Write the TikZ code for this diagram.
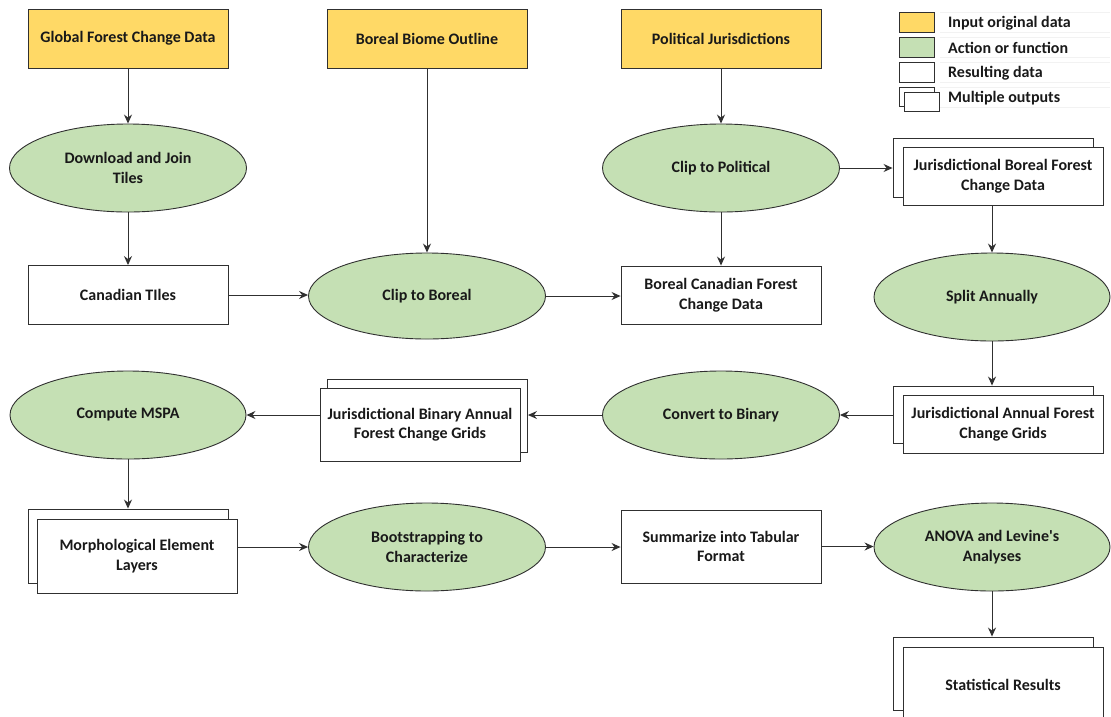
\documentclass[tikz,border=0pt]{standalone}
\usepackage{fontspec}
\setmainfont{Carlito}[Ligatures=TeXOff]
\usetikzlibrary{arrows.meta,shapes.geometric}
\definecolor{inyellow}{HTML}{FFD966}
\definecolor{actgreen}{HTML}{C5E0B4}
\definecolor{edge}{HTML}{303030}
\begin{document}
\begin{tikzpicture}[x=1pt,y=-1pt,
  every node/.style={font=\fontsize{16}{19.5}\selectfont\bfseries, text=black!90, align=center, inner sep=0pt},
  inbox/.style={draw=edge, line width=0.9pt, fill=inyellow, rectangle, minimum width=200pt, minimum height=59pt},
  resbox/.style={draw=edge, line width=0.9pt, fill=white, rectangle, minimum width=200pt},
  actell/.style={draw=edge, line width=0.9pt, fill=actgreen, ellipse, minimum width=237pt, minimum height=88pt},
  flow/.style={draw=edge, line width=1pt, -{Stealth[length=9pt,width=8pt,inset=3pt]}},
  legtext/.style={anchor=west, font=\fontsize{16}{19}\selectfont\bfseries},
  faint/.style={draw=black!5, line width=0.6pt}
]
\useasboundingbox (0,0) rectangle (1111,716);
\clip (0,0) rectangle (1111,716);
\fill[white] (0,0) rectangle (1111,716);

% legend
\foreach \ya/\yb in {12/32,37/57,62/82,87/107}{
  \draw[faint] (940,\ya) -- (1110,\ya);
  \draw[faint] (940,\yb) -- (1110,\yb);
}
\node[draw=edge, line width=0.9pt, fill=inyellow, minimum width=35pt, minimum height=20pt] (lg1) at (916.5,22) {};
\node[draw=edge, line width=0.9pt, fill=actgreen, minimum width=35pt, minimum height=20pt] (lg2) at (916.5,47) {};
\node[draw=edge, line width=0.9pt, fill=white, minimum width=35pt, minimum height=20pt] (lg3) at (916.5,72) {};
\node[draw=edge, line width=0.9pt, fill=white, minimum width=35pt, minimum height=19pt] (lg4b) at (916.5,97) {};
\node[draw=edge, line width=0.9pt, fill=white, minimum width=35pt, minimum height=19pt] (lg4) at (921.5,101.5) {};
\node[legtext] (lt1) at (948,23) {Input original data};
\node[legtext] (lt2) at (948,48) {Action or function};
\node[legtext] (lt3) at (948,73) {Resulting data};
\node[legtext] (lt4) at (948,98) {Multiple outputs};

% inputs
\node[inbox] (gfc) at (128,38.5) {Global Forest Change Data};
\node[inbox] (bbo) at (427,38.5) {Boreal Biome Outline};
\node[inbox] (pj) at (721,38.5) {Political Jurisdictions};

% row 1
\node[actell] (dj) at (128,168) {Download and Join\\Tiles};
\node[actell] (cp) at (721,168) {Clip to Political};
\node[resbox, minimum height=59pt] (jbB) at (993,167.5) {};
\node[resbox, minimum height=58pt] (jb) at (1003,176) {Jurisdictional Boreal Forest\\Change Data};

% row 2
\node[resbox, minimum height=59pt] (ct) at (128,295) {Canadian TIles};
\node[actell, minimum height=86pt] (cb) at (427,296) {Clip to Boreal};
\node[resbox, minimum height=58pt] (bc) at (721,295) {Boreal Canadian Forest\\Change Data};
\node[actell, minimum width=236pt] (sa) at (992,297) {Split Annually};

% row 3
\node[actell, minimum width=236pt] (ms) at (128,415) {Compute MSPA};
\node[resbox, minimum height=73pt] (jbaB) at (427.5,415.5) {};
\node[resbox, minimum height=73pt] (jba) at (420,424.5) {Jurisdictional Binary Annual\\Forest Change Grids};
\node[actell] (cv) at (721,415) {Convert to Binary};
\node[resbox, minimum height=57pt] (jaB) at (993,414.5) {};
\node[resbox, minimum height=58pt] (ja) at (1003,424) {Jurisdictional Annual Forest\\Change Grids};

% row 4
\node[resbox, minimum height=74pt] (meB) at (128,546) {};
\node[resbox, minimum height=74pt] (me) at (137,556) {Morphological Element\\Layers};
\node[actell] (bs) at (427,547) {Bootstrapping to\\Characterize};
\node[resbox, minimum height=73pt] (su) at (721,546.5) {Summarize into Tabular\\Format};
\node[actell, minimum width=236pt] (an) at (992,547) {ANOVA and Levine's\\Analyses};

% row 5
\node[resbox, minimum height=73pt] (srB) at (993,673.5) {};
\node[resbox, minimum height=73pt] (sr) at (1003,683.5) {};
\node (srt) at (1003,685) {Statistical Results};

% connectors
\draw[flow] (gfc.south) -- (dj.north);
\draw[flow] (dj.south) -- (ct.north);
\draw[flow] (bbo.south) -- (cb.north);
\draw[flow] (pj.south) -- (cp.north);
\draw[flow] (cp.south) -- (bc.north);
\draw[flow] (cp.east) -- (cp.east -| jbB.west);
\draw[flow] (ct.east) -- (ct.east -| cb.west);
\draw[flow] (cb.east) -- (cb.east -| bc.west);
\draw[flow] (jb.south -| sa.north) -- (sa.north);
\draw[flow] (sa.south) -- (sa.south |- jaB.north);
\draw[flow] (jaB.west |- cv.east) -- (cv.east);
\draw[flow] (cv.west) -- (cv.west -| jbaB.east);
\draw[flow] (jba.west |- ms.east) -- (ms.east);
\draw[flow] (ms.south) -- (ms.south |- meB.north);
\draw[flow] (me.east |- bs.west) -- (bs.west);
\draw[flow] (bs.east) -- (bs.east -| su.west);
\draw[flow] (su.east) -- (su.east -| an.west);
\draw[flow] (an.south) -- (an.south |- srB.north);
\end{tikzpicture}
\end{document}
